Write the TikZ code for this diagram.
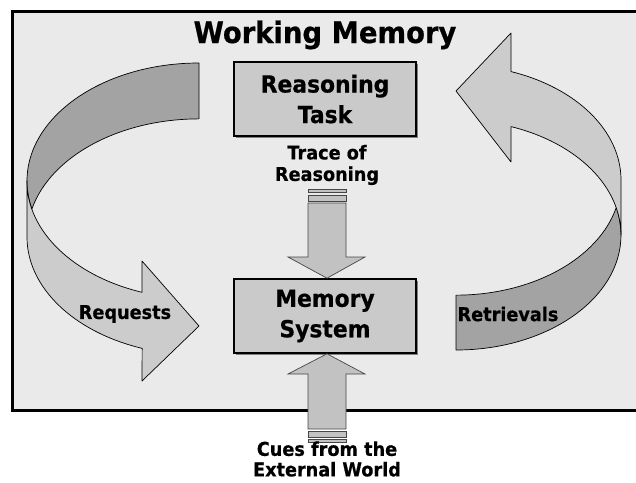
\documentclass[tikz,border=0pt]{standalone}
\usepackage{fontspec}
\setmainfont{DejaVu Sans}[FakeStretch=0.93, BoldFeatures={FakeBold=0.6}]
\usetikzlibrary{positioning}

\definecolor{panelgray}{RGB}{234,234,234}
\definecolor{boxgray}{RGB}{202,202,202}
\definecolor{frontgray}{RGB}{204,204,204}
\definecolor{backgray}{RGB}{163,163,163}
\definecolor{blockgray}{RGB}{194,194,194}
\definecolor{edgegray}{RGB}{70,70,70}

\begin{document}
\begin{tikzpicture}[x=1pt,y=-1pt,
    box/.style={draw=black, line width=1.6pt, fill=boxgray, minimum width=182pt,
        minimum height=74pt, align=center, font=\fontsize{23.5}{30.5}\selectfont\bfseries},
    label/.style={align=center, font=\fontsize{19}{21.5}\selectfont\bfseries},
    front/.style={fill=frontgray, draw=black, line width=0.7pt, line join=round},
    back/.style={fill=backgray, draw=black, line width=0.7pt, line join=round},
    block/.style={fill=blockgray, draw=edgegray, line width=0.7pt}]

    \useasboundingbox (0,0) rectangle (636,482);

    % Draw working memory panel
    \fill[panelgray] (12,11) rectangle (637,410);
    \draw[line width=3pt] (12,11) rectangle (637,410);
    \node[font=\fontsize{29.5}{32}\selectfont\bfseries, anchor=base] (title) at (325,43) {Working Memory};

    % Draw shadows of the two boxes
    \fill[gray] (236,64) rectangle (418,138);
    \fill[gray] (236,281) rectangle (418,355);

    % Draw the two boxes
    \node[box] (task) at (325,99) {Reasoning\\Task};
    \node[box] (memsys) at (325,316) {Memory\\System};

    % Draw curved arrow on the left (requests)
    \draw[back] (199,63) arc[start angle=270, end angle=180, x radius=172, y radius=118]
        arc[start angle=180, end angle=166.3, x radius=172, y radius=118]
        arc[start angle=193.7, end angle=270, x radius=172, y radius=118] -- cycle;
    \draw[front] (27,181) -- (27,237)
        arc[start angle=180, end angle=109.3, x radius=172, y radius=118]
        -- (142,381) -- (199,326) -- (142,261) -- (142,292.3)
        arc[start angle=109.3, end angle=180, x radius=172, y radius=118] -- cycle;
    \node[label] (requests) at (125,314) {Requests};

    % Draw curved arrow on the right (retrievals)
    \draw[back] (456,350) arc[start angle=90, end angle=0, x radius=165, y radius=115]
        arc[start angle=0, end angle=-13.8, x radius=165, y radius=115]
        arc[start angle=13.8, end angle=90, x radius=165, y radius=115] -- cycle;
    \draw[front] (621,235) -- (621,180)
        arc[start angle=0, end angle=-70.5, x radius=165, y radius=115]
        -- (511,33) -- (456,91) -- (511,162) -- (511,126.6)
        arc[start angle=-70.5, end angle=0, x radius=165, y radius=115] -- cycle;
    \node[label] (retrievals) at (508,314) {Retrievals};

    % Draw trace arrow into the memory system
    \node[label] (trace) at (327,165) {Trace of\\Reasoning};
    \draw[block] (308,189) rectangle (346,192);
    \draw[block] (308,195) rectangle (346,201);
    \draw[block] (308,203) -- (308,257) -- (288,257) -- (memsys.north -| 327,0)
        -- (365,257) -- (346,257) -- (346,203) -- cycle;

    % Draw cue arrow into the memory system
    \draw[block] (308,429) -- (308,374) -- (288,374) -- (memsys.south -| 327,0)
        -- (365,374) -- (346,374) -- (346,429) -- cycle;
    \draw[block] (308,431) rectangle (346,437);
    \draw[block] (308,439) rectangle (346,442);
    \node[label, font=\fontsize{19}{20.5}\selectfont\bfseries] (cues) at (327,459) {Cues from the\\External World};
\end{tikzpicture}
\end{document}
